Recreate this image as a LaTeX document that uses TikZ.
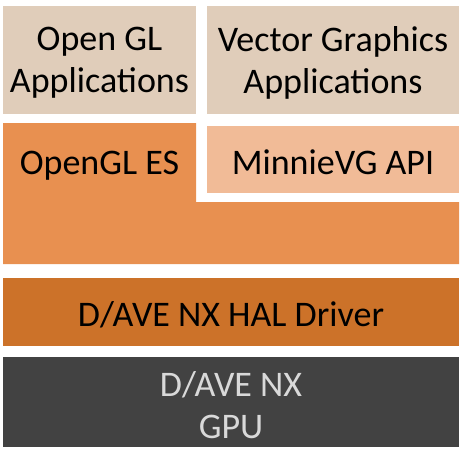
\documentclass[tikz,border=0pt]{standalone}
\usepackage{fontspec}
\setmainfont{Carlito}
\usetikzlibrary{calc}
\definecolor{appbeige}{HTML}{E0CDBA}
\definecolor{esorange}{HTML}{E89050}
\definecolor{vglight}{HTML}{F1BB97}
\definecolor{halorange}{HTML}{CC7229}
\definecolor{gpugray}{HTML}{424242}
\definecolor{gputext}{HTML}{D9D9D9}
\begin{document}
\begin{tikzpicture}[x=1pt,y=-1pt,every node/.style={font=\fontsize{36}{42}\selectfont,align=center,inner sep=0pt,yshift=-3pt}]
		\useasboundingbox(0,0)rectangle(462,448);
		\coordinate(GLa)at(3,3);
		\coordinate(GLb)at(196,111);
		\coordinate(VGa)at(207,3);
		\coordinate(VGb)at(459,111);
		\coordinate(APIa)at(207,123);
		\coordinate(APIb)at(459,190);
		\coordinate(HALa)at(3,275);
		\coordinate(HALb)at(459,343);
		\coordinate(GPUa)at(3,354);
		\coordinate(GPUb)at(459,444);
		\fill[appbeige](GLa)rectangle(GLb);
		\fill[appbeige](VGa)rectangle(VGb);
		\fill[esorange](3,123)--(196,123)--(196,202)--(459,202)--(459,264)--(3,264)--cycle;
		\fill[vglight](APIa)rectangle(APIb);
		\fill[halorange](HALa)rectangle(HALb);
		\fill[gpugray](GPUa)rectangle(GPUb);
		\node(glapp)at($(GLa)!.5!(GLb)$){Open GL\\Applications};
		\node(vgapp)at($(VGa)!.5!(VGb)$){Vector Graphics\\Applications};
		\node(gles)at(99.5,162.5){OpenGL ES};
		\node(minnie)at($(APIa)!.5!(APIb)$){MinnieVG API};
		\node(hal)at($(HALa)!.5!(HALb)$){D/AVE NX HAL Driver};
		\node[text=gputext](gpu)at($(GPUa)!.5!(GPUb)$){D/AVE NX\\GPU};
		\end{tikzpicture}
\end{document}
